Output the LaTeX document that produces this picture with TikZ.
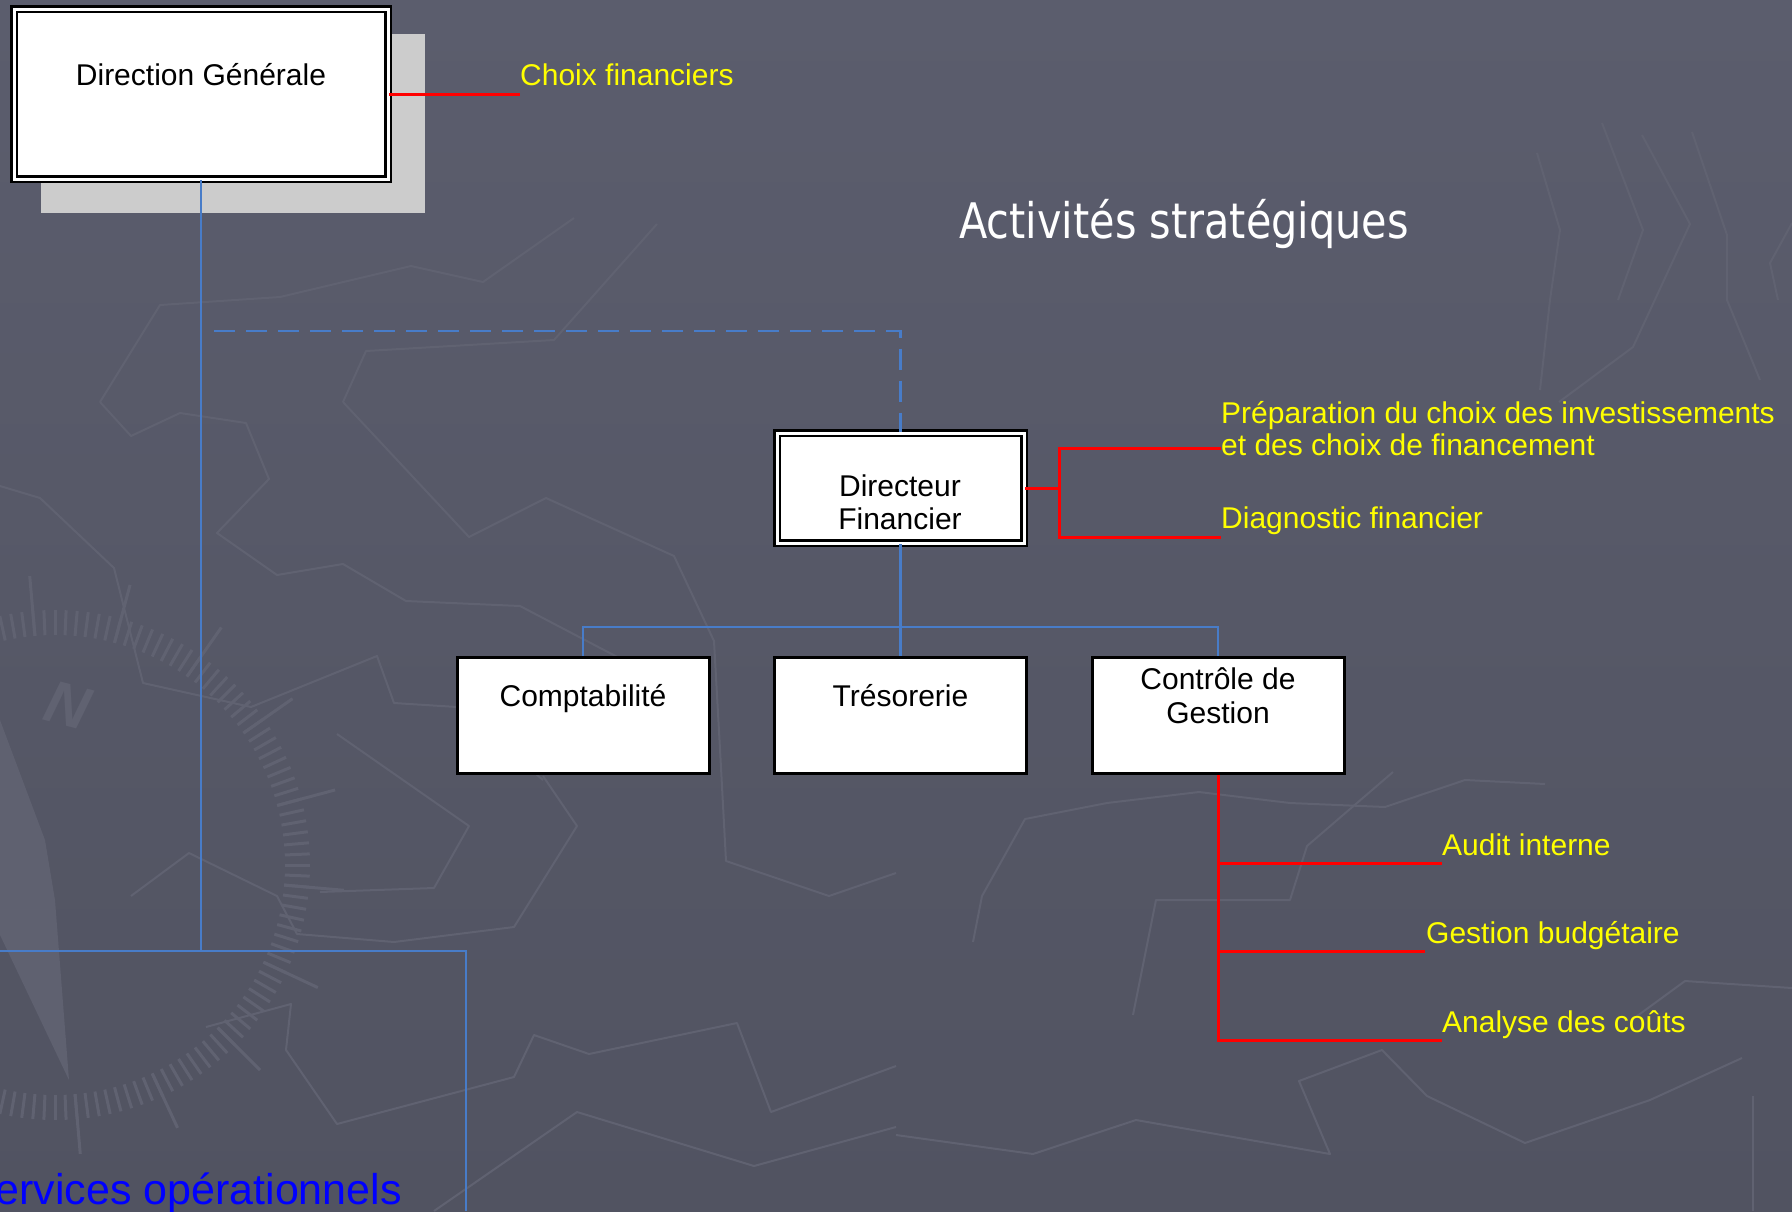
\documentclass[tikz,border=0pt]{standalone}
\usepackage{fontspec}
\setmainfont{Liberation Sans}
\newfontfamily\titlefont{DejaVu Sans}
\definecolor{bgtop}{RGB}{91,93,109}
\definecolor{bgbot}{RGB}{81,83,97}
\definecolor{decoline}{RGB}{96,98,113}
\definecolor{decofill}{RGB}{95,97,112}
\definecolor{lineblue}{RGB}{72,124,200}
\definecolor{txtyellow}{RGB}{255,255,0}
\definecolor{shadowgray}{RGB}{204,204,204}
\definecolor{svblue}{RGB}{0,0,255}
\begin{document}
\begin{tikzpicture}[x=1pt,y=-1pt,
  txt/.style={inner sep=0pt, font=\fontsize{30}{34}\selectfont},
  yel/.style={txt, text=txtyellow, anchor=base west},
  blk/.style={txt, text=black, anchor=base},
  sbox/.style={draw=black, fill=white, line width=3pt, inner sep=0pt},
  dbox/.style={draw=black, double=white, double distance=3pt, line width=2.5pt, fill=white, inner sep=0pt},
  bline/.style={draw=lineblue, line width=2.6pt},
  dline/.style={draw=lineblue, line width=2.6pt, dash pattern=on 21pt off 11pt},
  rline/.style={draw=red, line width=3pt},
  deco/.style={draw=decoline, line width=2pt, line join=round}]
\useasboundingbox (0,0) rectangle (1792,1211);
\shade[top color=bgtop, bottom color=bgbot] (0,0) rectangle (1792,1211);

% faint background map and compass
\begin{scope}
\clip (0,0) rectangle (1792,1211);
\fill[decofill] (0,720) -- (45,840) -- (55,900) -- (69,1080) -- (0,935) -- cycle;
\foreach \a in {0,2.5,...,357.5}{
  \draw[decoline, line width=3pt] ({55+230*cos(\a)},{865+230*sin(\a)}) -- ({55+255*cos(\a)},{865+255*sin(\a)});
}
\foreach \a in {5,25,...,345}{
  \draw[decoline, line width=3pt] ({55+230*cos(\a)},{865+230*sin(\a)}) -- ({55+290*cos(\a)},{865+290*sin(\a)});
}
\node[text=decoline, font=\fontsize{60}{64}\selectfont\bfseries\itshape, rotate=-15, inner sep=0pt] (compn) at (68,705) {N};
\draw[deco] (100,402) -- (160,305) -- (280,297) -- (411,266) -- (483,282) -- (574,218);
\draw[deco] (100,402) -- (131,436) -- (180,413) -- (246,423) -- (269,479) -- (217,533) -- (277,575) -- (343,564) -- (406,601) -- (520,606) -- (646,672);
\draw[deco] (343,402) -- (366,351) -- (554,340) -- (657,224);
\draw[deco] (343,402) -- (469,537) -- (546,498) -- (674,556) -- (714,641) -- (720,749) -- (726,861) -- (829,896) -- (896,873);
\draw[deco] (131,896) -- (189,853) -- (277,896) -- (297,934) -- (394,942) -- (514,927) -- (577,826) -- (543,776);
\draw[deco] (206,1027) -- (291,1004) -- (286,1050) -- (337,1124) -- (514,1077) -- (534,1035) -- (589,1054) -- (737,1023) -- (771,1112) -- (896,1066);
\draw[deco] (434,1211) -- (577,1112) -- (754,1166) -- (896,1127);
\draw[deco] (0,486) -- (40,498) -- (114,568) -- (143,683) -- (251,707) -- (377,656) -- (394,703) -- (457,707) -- (543,780);
\draw[deco] (337,734) -- (469,826) -- (434,888) -- (320,892);
\draw[deco] (973,942) -- (982,896) -- (1025,819) -- (1107,803) -- (1199,792) -- (1290,803) -- (1385,807) -- (1465,780) -- (1545,784);
\draw[deco] (1133,1015) -- (1156,900) -- (1290,900) -- (1307,846) -- (1393,772);
\draw[deco] (896,1135) -- (1033,1154) -- (1136,1120) -- (1330,1154) -- (1299,1081) -- (1382,1050) -- (1427,1096) -- (1525,1143) -- (1650,1100) -- (1742,1058);
\draw[deco] (1753,1096) -- (1753,1211);
\draw[deco] (1792,988) -- (1685,981) -- (1633,1019);
\draw[deco] (1559,402) -- (1633,347) -- (1690,224) -- (1642,135);
\draw[deco] (1537,153) -- (1560,230) -- (1550,300) -- (1540,390);
\draw[deco] (1602,123) -- (1643,230) -- (1618,300);
\draw[deco] (1692,132) -- (1727,235) -- (1727,300) -- (1760,380);
\draw[deco] (1792,223) -- (1770,263) -- (1778,300);
\end{scope}

% Direction Generale
\node[fill=shadowgray, inner sep=0pt, minimum width=384pt, minimum height=179pt] (dgshadow) at (233,123.5) {};
\node[dbox, minimum width=374pt, minimum height=170pt] (dg) at (201,94) {};
\node[blk] (dgt) at (201,85) {Direction Générale};
\node[yel] (choix) at (520,85) {Choix financiers};
\coordinate (choixend) at (520,94);
\draw[rline] (dg.east |- choixend) -- (choixend);

% title
\node[anchor=base west, inner sep=0pt, text=white] (title) at (959,238)
  {\titlefont\fontsize{49}{55}\selectfont\scalebox{0.845}[1]{Activités stratégiques}};

% Directeur Financier
\node[dbox, minimum width=247pt, minimum height=110pt] (df) at (900.5,488) {};
\node[blk] (dft1) at (900,496) {Directeur};
\node[blk] (dft2) at (900,529) {Financier};

% children
\node[sbox, minimum width=252pt, minimum height=116pt] (cpt) at (583,715) {};
\node[sbox, minimum width=252pt, minimum height=116pt] (tre) at (900.5,715) {};
\node[sbox, minimum width=252pt, minimum height=116pt] (cdg) at (1218,715) {};
\node[blk] (cptt) at (583,706) {Comptabilité};
\node[blk] (tret) at (900.5,706) {Trésorerie};
\node[blk] (cdgt1) at (1218,689) {Contrôle de};
\node[blk] (cdgt2) at (1218,723) {Gestion};

% blue connectors
\coordinate (svl) at (0,951);
\coordinate (svr) at (466,951);
\coordinate (svb) at (466,1211);
\draw[bline] (dg.south) -- (dg.south |- svl);
\draw[bline] (svl) -- (svr) -- (svb);
\coordinate (dstart) at (214,331);
\draw[dline] (dstart) -- (dstart -| df.north) -- (df.north);
\coordinate (busy) at (0,627);
\draw[bline] (df.south) -- (tre.north);
\draw[bline] (cpt.north) -- (cpt.north |- busy) -- (cdg.north |- busy) -- (cdg.north);

% red branches of Directeur Financier
\coordinate (rj) at (1059,488);
\node[yel] (prep1) at (1221,423) {Préparation du choix des investissements};
\node[yel] (prep2) at (1221,455) {et des choix de financement};
\node[yel] (diag) at (1221,528) {Diagnostic financier};
\coordinate (prepend) at (1219,448);
\coordinate (diagend) at (1219,537);
\draw[rline] (df.east |- rj) -- (rj);
\draw[rline, line cap=rect] (prepend) -- (rj |- prepend) -- (rj |- diagend) -- (diagend);

% red branches of Controle de Gestion
\node[yel] (audit) at (1442,855) {Audit interne};
\node[yel] (budget) at (1426,943) {Gestion budgétaire};
\node[yel] (couts) at (1442,1032) {Analyse des coûts};
\coordinate (auditend) at (1442,863);
\coordinate (budgetend) at (1425,951);
\coordinate (coutsend) at (1442,1040);
\draw[rline] (cdg.south) -- (cdg.south |- coutsend) -- (coutsend);
\draw[rline] (cdg.south |- auditend) -- (auditend);
\draw[rline] (cdg.south |- budgetend) -- (budgetend);

% Services operationnels (cut by the frame, as in the original slide)
\begin{scope}
\clip (0,0) rectangle (1792,1211);
\node[anchor=base east, inner sep=0pt, text=svblue, font=\fontsize{43}{48}\selectfont] (services) at (402,1204) {Services opérationnels};
\end{scope}
\end{tikzpicture}
\end{document}
